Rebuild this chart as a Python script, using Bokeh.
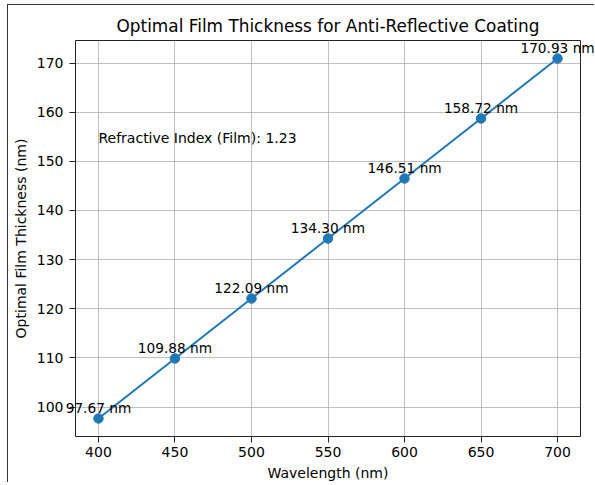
from bokeh.plotting import figure
from bokeh.models import ColumnDataSource, FixedTicker, Range1d, Label
from bokeh.core.properties import value
from bokeh.embed import file_html
from bokeh.resources import INLINE

wavelengths = [400, 450, 500, 550, 600, 650, 700]
thickness = [97.67, 109.88, 122.09, 134.30, 146.51, 158.72, 170.93]
point_labels = [f"{t:.2f} nm" for t in thickness]
x_ticks = [400, 450, 500, 550, 600, 650, 700]
y_ticks = [100, 110, 120, 130, 140, 150, 160, 170]
note_text = "Refractive Index (Film): 1.23"
note_x = 400
note_y = 154.8

FONT = "DejaVu Sans"
BLUE = "#1f77b4"

src = ColumnDataSource(dict(x=wavelengths, y=thickness, lab=point_labels))

xspan = max(wavelengths) - min(wavelengths)
yspan = max(thickness) - min(thickness)

p = figure(width=587, height=478, output_backend="svg", toolbar_location=None,
           x_range=Range1d(min(wavelengths) - 0.05 * xspan, max(wavelengths) + 0.05 * xspan),
           y_range=Range1d(min(thickness) - 0.05 * yspan, max(thickness) + 0.05 * yspan),
           min_border_left=67, min_border_right=15, min_border_top=35, min_border_bottom=46)

p.styles = {"border-top": "1px solid #333", "border-left": "1px solid #333",
            "margin-left": "7px", "margin-top": "4px"}

p.title.text = "Optimal Film Thickness for Anti-Reflective Coating"
p.title.align = "center"
p.title.text_font = FONT
p.title.text_font_size = "16.9px"
p.title.text_font_style = "normal"
p.title.text_color = "#000000"
p.title.standoff = 10

p.outline_line_color = "#222222"
p.outline_line_width = 1
p.outline_line_alpha = 1

for ax in (p.xaxis[0], p.yaxis[0]):
    ax.axis_line_color = None
    ax.major_tick_out = 6
    ax.major_tick_in = 0
    ax.minor_tick_line_color = None
    ax.major_tick_line_color = "#222222"
    ax.major_label_text_font = FONT
    ax.major_label_text_font_size = "14px"
    ax.major_label_text_color = "#000000"
    ax.axis_label_text_font = FONT
    ax.axis_label_text_font_size = "14px"
    ax.axis_label_text_font_style = "normal"
    ax.axis_label_text_color = "#000000"

p.xaxis.major_label_standoff = 4
p.yaxis.major_label_standoff = 6
p.xaxis.ticker = FixedTicker(ticks=x_ticks)
p.yaxis.ticker = FixedTicker(ticks=y_ticks)
p.xaxis.axis_label = "Wavelength (nm)"
p.yaxis.axis_label = "Optimal Film Thickness (nm)"
p.xaxis.axis_label_standoff = 5
p.yaxis.axis_label_standoff = 5

p.grid.grid_line_color = "#b0b0b0"
p.grid.grid_line_width = 0.8

p.line("x", "y", source=src, line_color=BLUE, line_width=2)
p.scatter("x", "y", source=src, size=9.5, fill_color=BLUE, line_color=BLUE)

p.text("x", "y", text="lab", source=src, text_align="center", text_baseline="alphabetic",
       y_offset=-11, text_font=value(FONT), text_font_size="13.7px", text_color="#000000",
       level="overlay")

p.add_layout(Label(x=note_x, y=note_y, text=note_text, text_align="left",
                   text_baseline="middle", text_font=FONT, text_font_size="14px",
                   text_color="#000000"))

open("out.html", "w").write(file_html(p, INLINE))
